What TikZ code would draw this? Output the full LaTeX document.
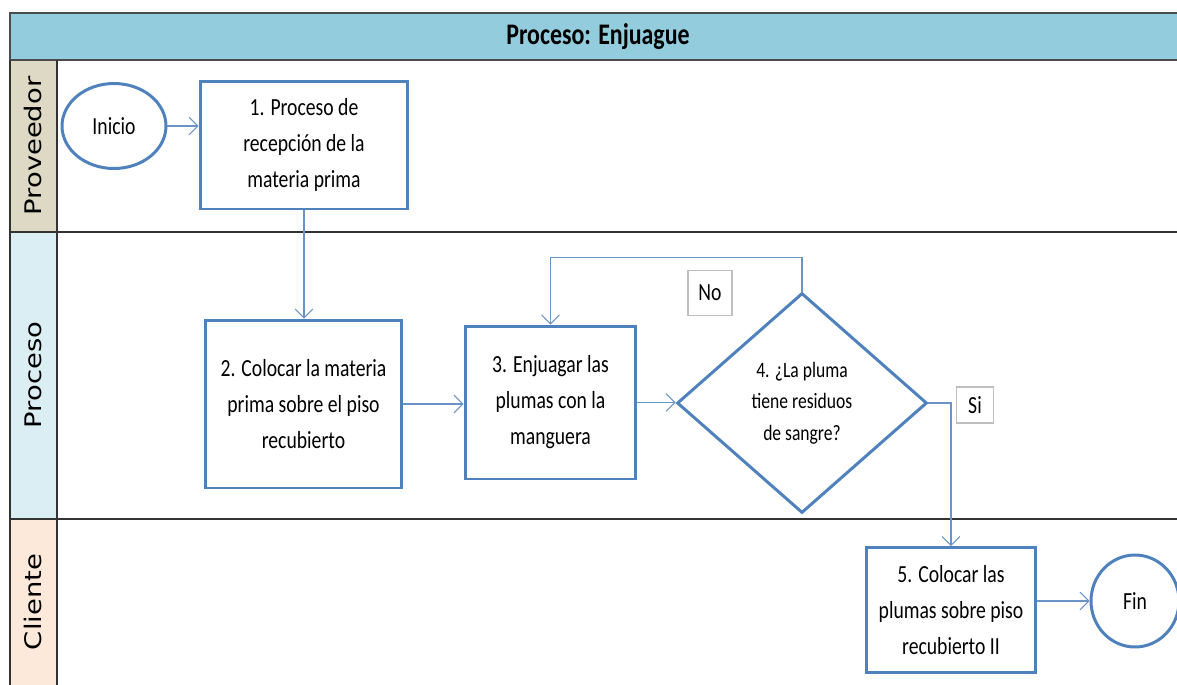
\documentclass[tikz,border=0pt]{standalone}
\usepackage{fontspec}
\setmainfont{Carlito}[FakeStretch=0.8]
\newfontfamily\lanefont{DejaVu Sans}[FakeStretch=1.2]
\usetikzlibrary{positioning,shapes.geometric,arrows.meta}
\definecolor{boxblue}{HTML}{4F81BD}
\definecolor{headblue}{HTML}{93CDDD}
\definecolor{provtan}{HTML}{DDD9C4}
\definecolor{procblue}{HTML}{DAEEF3}
\definecolor{clipeach}{HTML}{FDE9D9}
\begin{document}
\begin{tikzpicture}[x=0.02cm, y=-0.02cm,
    proc/.style = {draw=boxblue, line width=1.7pt, fill=white, align=center, inner sep=0pt, font=\fontsize{14}{20.5}\selectfont},
    term/.style = {draw=boxblue, line width=1.7pt, ellipse, fill=white, inner sep=0pt, font=\fontsize{14}{17}\selectfont},
    decision/.style = {draw=boxblue, line width=1.7pt, diamond, fill=white, align=center, inner sep=0pt, font=\fontsize{12.5}{18}\selectfont},
    tag/.style = {draw=black!25, line width=0.6pt, fill=white, inner sep=0pt, font=\fontsize{14}{17}\selectfont},
    lane/.style = {rotate=90, font=\lanefont\fontsize{13}{15}\selectfont},
    flow/.style = {draw=boxblue!85, line width=0.6pt, -{Straight Barb[length=5pt, width=10pt]}},
    frame/.style = {draw=black!80, line width=0.9pt}]
\useasboundingbox (0,0) rectangle (1177,684);

% lanes
\fill[provtan] (10,60) rectangle (57,232);
\fill[procblue] (10,232) rectangle (57,519);
\fill[clipeach] (10,519) rectangle (57,690);
\draw[frame, fill=headblue, draw=black!70, line width=1.2pt] (10,13) rectangle (1190,60);
\node[font=\bfseries\fontsize{17}{20}\selectfont] (title) at (598,37) {Proceso: Enjuague};
\draw[frame] (10,60) -- (10,690);
\draw[frame] (57,60) -- (57,690);
\draw[frame] (10,232) -- (1190,232);
\draw[frame] (10,519) -- (1190,519);
\node[lane] (prov) at (33,146) {Proveedor};
\node[lane] (proceso) at (33,375) {Proceso};
\node[lane] (cliente) at (33,602) {Cliente};

% nodes
\node[term, minimum width=2.08cm, minimum height=1.7cm] (inicio) at (114,126) {Inicio};
\node[proc, minimum width=4.16cm, minimum height=2.56cm] (p1) at (304,145) {1. Proceso de\\recepción de la\\materia prima};
\node[proc, minimum width=3.94cm, minimum height=3.36cm] (p2) at (303.5,404) {2. Colocar la materia\\prima sobre el piso\\recubierto};
\node[proc, minimum width=3.42cm, minimum height=3.06cm] (p3) at (550.5,402.5) {3. Enjuagar las\\plumas con la\\manguera};
\node[decision, minimum width=5cm, minimum height=4.4cm] (q4) at (802,403) {4. ¿La pluma\\tiene residuos\\de sangre?};
\node[proc, minimum width=3.4cm, minimum height=2.5cm] (p5) at (951,610) {5. Colocar las\\plumas sobre piso\\recubierto II};
\node[term, minimum width=1.76cm, minimum height=1.84cm] (fin) at (1135,601) {Fin};
\node[tag, minimum width=0.88cm, minimum height=0.9cm] (no) at (710,293) {No};
\node[tag, minimum width=0.74cm, minimum height=0.72cm] (si) at (975,405) {Si};

% connectors
\draw[flow] (inicio.east) -- (inicio.east -| p1.west);
\draw[flow] (p1.south) -- (p1.south |- p2.north);
\draw[flow] (p2.east) -- (p2.east -| p3.west);
\draw[flow] (p3.east) -- (p3.east -| q4.west);
\draw[flow] (q4.north) -- ++(0,-34) -| (p3.north);
\draw[flow] (q4.east) -| (p5.north);
\draw[flow] (fin.west -| p5.east) -- (fin.west);
\end{tikzpicture}
\end{document}
